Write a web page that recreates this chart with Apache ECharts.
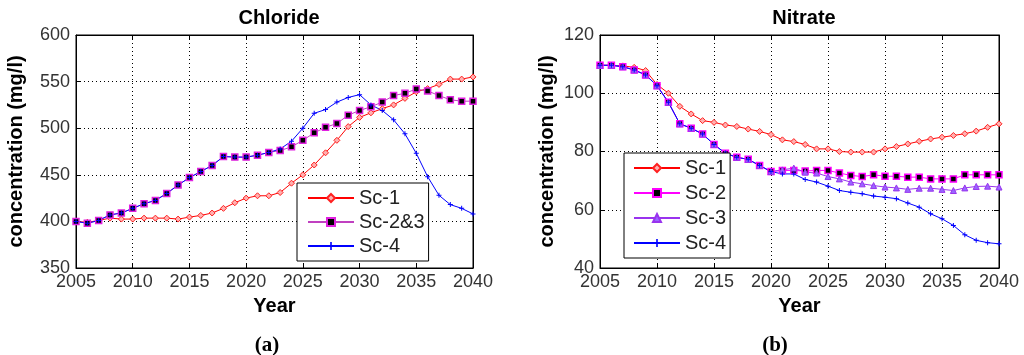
<!DOCTYPE html>
<html><head><meta charset="utf-8">
<script src="https://cdn.jsdelivr.net/npm/echarts@6/dist/echarts.min.js"></script>
<style>html,body{margin:0;padding:0;background:#fff}#c{width:1024px;height:355px}</style>
</head><body><div id="c"></div>
<script>
const years = [2005,2006,2007,2008,2009,2010,2011,2012,2013,2014,2015,2016,2017,2018,2019,2020,2021,2022,2023,2024,2025,2026,2027,2028,2029,2030,2031,2032,2033,2034,2035,2036,2037,2038,2039,2040];
const xTicks = [2005,2010,2015,2020,2025,2030,2035,2040];
const clSc1 = [400,399,401,403.5,402.5,402.5,403.5,403.5,403.5,402.5,404.6,406.4,409,414,420,425,427.5,427.5,431,441,450,460.5,473.6,487,501.7,511.6,516.5,521,525,532,539,542.5,547,552.7,552.7,555];
const clSc23 = [400,398,401,407,409,414,419,422.5,430,439,447,453.5,460,469.6,469,469,471,474,476,480,487,495,501,505,514,519,523,528,535,537.5,542,540,535,530.5,529,529];
const clSc4 = [400,398,401,407,409,414,419,422.5,430,439,447,453.5,460,469.6,469,469,471,474,477.7,486,500,516,520,528,533,536,525,519,509,494,473,448,428,418,414,408];
const noSc1 = [109.6,109.6,109.4,108.9,107.8,103,100,95.5,92.9,90.6,90,89.1,88.6,87.7,86.9,85.8,84,83.4,82.4,80.9,80.9,80,79.8,79.8,79.8,80.9,81.7,82.6,83.5,84.3,84.9,85.5,86.1,87,88.3,89.5];
const noSc2 = [109.6,109.6,109.1,108,106.3,102.6,96.9,89.5,88,86,82.4,79.4,78,77.3,75.2,73.1,73.5,73.5,73.3,73.5,73.5,72.6,71.8,71.4,72,71.5,71.5,71.2,71.2,70.6,70.6,70.6,72,72,72,72];
const noSc3 = [109.6,109.6,109.1,108,106.3,102.6,96.9,89.5,88,86,82.4,79.4,78,77.3,75.2,73.1,73.7,74.3,72.9,72.6,71.4,70.6,69.5,68.9,68.3,67.8,67.5,67,67.4,67.4,67,66.6,67.5,68,68.1,67.8];
const noSc4 = [109.6,109.6,109.1,108,106.3,102.6,96.9,89.5,88,86,82.4,79.4,78,77.3,75.2,73.1,72.3,72.3,70.4,69.5,68.1,66.6,66,65.5,64.7,64.3,63.8,62.3,60.9,58.6,56.9,54.6,51.4,49.5,48.7,48.3];
const clTicks = [350,400,450,500,550,600];
const noTicks = [40,60,80,100,120];

const pair = v => years.map((y,i)=>[y,v[i]]);
const FONT = '"Liberation Sans", Arial, sans-serif';
const crossPath = 'path://M4,0h2v4h4v2h-4v4h-2v-4h-4v-2h4z';

function xAx(gi){
  return [{
    type:'value', gridIndex:gi, min:xTicks[0], max:xTicks[xTicks.length-1], interval:5,
    name:'Year', nameLocation:'middle', nameGap:28,
    nameTextStyle:{fontFamily:FONT,fontSize:20,fontWeight:'bold',color:'#000'},
    axisLine:{lineStyle:{color:'#000',width:1}},
    axisTick:{inside:true,length:5,lineStyle:{color:'#000'}},
    axisLabel:{fontFamily:FONT,fontSize:18,color:'#333',margin:5,formatter:v=>String(v)},
    splitLine:{show:true,lineStyle:{type:[1,3],color:'#000',width:1}}
  },{
    type:'value', gridIndex:gi, position:'top', min:xTicks[0], max:xTicks[xTicks.length-1], interval:5,
    axisLine:{lineStyle:{color:'#000'}}, axisTick:{inside:true,length:5,lineStyle:{color:'#000'}},
    axisLabel:{show:false}, splitLine:{show:false}
  }];
}
function yAx(gi,ticks,gap){
  const mn=ticks[0], mx=ticks[ticks.length-1], iv=ticks[1]-ticks[0];
  return [{
    type:'value', gridIndex:gi, min:mn, max:mx, interval:iv,
    name:'concentration (mg/l)', nameLocation:'middle', nameGap:gap,
    nameTextStyle:{fontFamily:FONT,fontSize:20,fontWeight:'bold',color:'#000'},
    axisLine:{show:true,lineStyle:{color:'#000',width:1}},
    axisTick:{show:true,inside:true,length:5,lineStyle:{color:'#000'}},
    axisLabel:{fontFamily:FONT,fontSize:18,color:'#333',margin:6},
    splitLine:{show:true,lineStyle:{type:[1,3],color:'#000',width:1}}
  },{
    type:'value', gridIndex:gi, position:'right', min:mn, max:mx, interval:iv,
    axisLine:{show:true,lineStyle:{color:'#000'}}, axisTick:{show:true,inside:true,length:5,lineStyle:{color:'#000'}},
    axisLabel:{show:false}, splitLine:{show:false}
  }];
}
function ser(name,data,xi,yi,color,symbol,size,fill,border,bw){
  return {name, type:'line', xAxisIndex:xi, yAxisIndex:yi, data:pair(data),
    symbol, symbolSize:size, showSymbol:true, animation:false,
    lineStyle:{color,width:1}, itemStyle:{color:fill,borderColor:border,borderWidth:bw}};
}
const legendText = {fontFamily:FONT,fontSize:20,color:'#222'};
const option = {
  animation:false,
  title:[
    {text:'Chloride',left:274,top:3,textAlign:'center',textStyle:{fontFamily:FONT,fontSize:20,fontWeight:'bold',color:'#000'}},
    {text:'Nitrate',left:799,top:3,textAlign:'center',textStyle:{fontFamily:FONT,fontSize:20,fontWeight:'bold',color:'#000'}},
    {text:'(a)',left:262,top:330,textAlign:'center',textStyle:{fontFamily:'"Liberation Serif", "Times New Roman", serif',fontSize:21,fontWeight:'bold',color:'#000'}},
    {text:'(b)',left:770,top:330,textAlign:'center',textStyle:{fontFamily:'"Liberation Serif", "Times New Roman", serif',fontSize:21,fontWeight:'bold',color:'#000'}}
  ],
  grid:[
    {left:76,right:551,top:35,bottom:87,show:true,borderColor:'#000',borderWidth:1},
    {left:600,right:25,top:35,bottom:87,show:true,borderColor:'#000',borderWidth:1}
  ],
  legend:[
    {data:['Sc-1','Sc-2&3','Sc-4'],left:297,top:183,orient:'vertical',itemWidth:46,itemHeight:10,itemGap:4,
     padding:[5,4,5,10],borderColor:'#000',borderWidth:1,backgroundColor:'#fff',textStyle:legendText},
    {data:['Sc-1 ','Sc-2','Sc-3','Sc-4 '],left:624,top:153,orient:'vertical',itemWidth:46,itemHeight:10,itemGap:5,
     padding:[5,4,5,9],borderColor:'#000',borderWidth:1,backgroundColor:'#fff',textStyle:legendText,
     formatter:n=>n.trim()}
  ],
  xAxis:[...xAx(0),...xAx(1)],
  yAxis:[...yAx(0,clTicks,50),...yAx(1,noTicks,43)],
  series:[
    ser('Sc-1',clSc1,0,0,'#ff0000','diamond',6,'#ffb0b0','#ff2020',1),
    ser('Sc-2&3',clSc23,0,0,'#c040c0','rect',6,'#000','#e020e0',1.5),
    ser('Sc-4',clSc4,0,0,'#0000ff',crossPath,5,'#0000ff','#0000ff',0),
    ser('Sc-1 ',noSc1,2,2,'#ff0000','diamond',6,'#ffb0b0','#ff2020',1),
    ser('Sc-2',noSc2,2,2,'#ff00ff','rect',6,'#000','#ff00ff',1.5),
    ser('Sc-3',noSc3,2,2,'#9933ee','triangle',6,'#9966ff','#9933ee',1),
    ser('Sc-4 ',noSc4,2,2,'#0000ff',crossPath,5,'#0000ff','#0000ff',0)
  ]
};
const chart = echarts.init(document.getElementById('c'),null,{renderer:'canvas'});
chart.setOption(option);
</script>
</body></html>
